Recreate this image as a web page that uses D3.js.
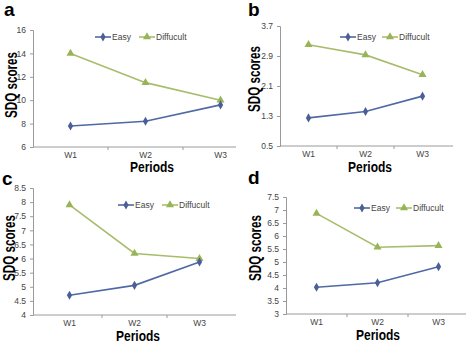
<!DOCTYPE html>
<html>
<head>
<meta charset="utf-8">
<script src="https://cdn.jsdelivr.net/npm/d3@7"></script>
<style>
  body { margin: 0; background: #fff; }
  svg { display: block; font-family: Arial, "Liberation Sans", sans-serif; }
</style>
</head>
<body>
<svg id="mainsvg" width="472" height="343"></svg>
<script>
const svg = d3.select('#mainsvg');

// data
const periods = ['W1', 'W2', 'W3'];
const seriesNames = ['Easy', 'Diffucult'];
const easyA = [7.8, 8.2, 9.6];
const diffA = [14.0, 11.5, 10.0];
const easyB = [1.25, 1.42, 1.83];
const diffB = [3.2, 2.93, 2.4];
const easyC = [4.7, 5.05, 5.88];
const diffC = [7.9, 6.18, 6.0];
const easyD = [4.03, 4.2, 4.82];
const diffD = [6.87, 5.57, 5.63];
const ticksA = [6, 8, 10, 12, 14, 16];
const ticksB = [0.5, 1.3, 2.1, 2.9, 3.7];
const ticksC = [4, 4.5, 5, 5.5, 6, 6.5, 7, 7.5, 8, 8.5];
const ticksD = [3, 3.5, 4, 4.5, 5, 5.5, 6, 6.5, 7, 7.5];

const easyColor = '#5068a4';
const diffColor = '#a8bd6c';

// panel layout
const panels = [
  { tag: 'a', easy: easyA, diff: diffA, ticks: ticksA, ax: 33, bx: 33, step: 75, xEnd: 236, yTop: 30, yBot: 147,
    tagX: 4, tagY: 16, titleX: 12, titleY: 85, perX: 152, perY: 172, lx: 95, ly: 37, lgap: 44 },
  { tag: 'b', easy: easyB, diff: diffB, ticks: ticksB, ax: 280, bx: 280, step: 57, xEnd: 453, yTop: 26, yBot: 146,
    tagX: 248, tagY: 16, titleX: 255, titleY: 79, perX: 370, perY: 172, lx: 340, ly: 37, lgap: 42 },
  { tag: 'c', easy: easyC, diff: diffC, ticks: ticksC, ax: 33, bx: 37, step: 65, xEnd: 236, yTop: 188, yBot: 315,
    tagX: 2, tagY: 185, titleX: 10, titleY: 248, perX: 138, perY: 341, lx: 118, ly: 205, lgap: 44 },
  { tag: 'd', easy: easyD, diff: diffD, ticks: ticksD, ax: 286, bx: 286, step: 61, xEnd: 466, yTop: 197, yBot: 314,
    tagX: 248, tagY: 184, titleX: 256, titleY: 248, perX: 378, perY: 340, lx: 354, ly: 208, lgap: 42 }
];

const diamond = d3.symbol().type(d3.symbolDiamond).size(24);
const triangle = d3.symbol().type(d3.symbolTriangle).size(28);

panels.forEach(p => {
  const g = svg.append('g').attr('class', 'panel');

  const xScale = d3.scaleBand()
    .domain(periods)
    .range([p.bx, p.bx + periods.length * p.step]);

  const yScale = d3.scaleLinear()
    .domain(d3.extent(p.ticks))
    .range([p.yBot, p.yTop]);

  // y axis
  const yAxis = d3.axisLeft(yScale).tickValues(p.ticks).tickSize(3).tickPadding(4)
    .tickFormat(d3.format(''));
  const yg = g.append('g').attr('transform', `translate(${p.ax},0)`).call(yAxis);
  yg.select('.domain').attr('stroke', '#9a9a9a');
  yg.selectAll('.tick line').attr('stroke', '#9a9a9a');
  yg.selectAll('.tick text').attr('fill', '#444').attr('font-size', 8.5);

  // x axis (clipped at the panel edge)
  g.append('line')
    .attr('x1', p.ax).attr('x2', p.xEnd)
    .attr('y1', p.yBot).attr('y2', p.yBot)
    .attr('stroke', '#9a9a9a');
  const edges = d3.range(1, periods.length).map(i => p.bx + i * p.step)
    .filter(x => x < p.xEnd);
  g.selectAll('.xtick').data(edges).join('line').attr('class', 'xtick')
    .attr('x1', d => d).attr('x2', d => d)
    .attr('y1', p.yBot).attr('y2', p.yBot + 3)
    .attr('stroke', '#9a9a9a');
  g.selectAll('.xlabel').data(periods).join('text').attr('class', 'xlabel')
    .attr('x', d => xScale(d) + xScale.bandwidth() / 2)
    .attr('y', p.yBot + 10.5)
    .attr('text-anchor', 'middle')
    .attr('font-size', 8.5)
    .attr('fill', '#444')
    .text(d => d);

  // lines
  const cx = (d, i) => xScale(periods[i]) + xScale.bandwidth() / 2;
  const line = d3.line().x(cx).y(d => yScale(d));

  g.append('path').datum(p.diff).attr('d', line)
    .attr('fill', 'none').attr('stroke', diffColor).attr('stroke-width', 1.6);
  g.append('path').datum(p.easy).attr('d', line)
    .attr('fill', 'none').attr('stroke', easyColor).attr('stroke-width', 1.6);

  g.selectAll('.dmark').data(p.diff).join('path').attr('class', 'dmark')
    .attr('d', triangle)
    .attr('transform', (d, i) => `translate(${cx(d, i)},${yScale(d)})`)
    .attr('fill', '#98b457');
  g.selectAll('.emark').data(p.easy).join('path').attr('class', 'emark')
    .attr('d', diamond)
    .attr('transform', (d, i) => `translate(${cx(d, i)},${yScale(d)})`)
    .attr('fill', '#4a5e98');

  // legend
  const legend = [
    { name: seriesNames[0], x: p.lx, color: easyColor, mark: diamond, mfill: '#4a5e98' },
    { name: seriesNames[1], x: p.lx + p.lgap, color: diffColor, mark: triangle, mfill: '#98b457' }
  ];
  legend.forEach(l => {
    g.append('line').attr('x1', l.x).attr('x2', l.x + 16)
      .attr('y1', p.ly).attr('y2', p.ly)
      .attr('stroke', l.color).attr('stroke-width', 1.6);
    g.append('path').attr('d', l.mark)
      .attr('transform', `translate(${l.x + 8},${p.ly})`)
      .attr('fill', l.mfill);
    g.append('text').attr('x', l.x + 17).attr('y', p.ly + 3)
      .attr('font-size', 8.5).attr('fill', '#444')
      .text(l.name);
  });

  // titles
  g.append('text')
    .attr('transform', `translate(${p.titleX + 5},${p.titleY}) rotate(-90)`)
    .attr('text-anchor', 'middle')
    .attr('font-size', 16).attr('font-weight', 'bold')
    .attr('textLength', 66).attr('lengthAdjust', 'spacingAndGlyphs')
    .text('SDQ scores');
  g.append('text')
    .attr('x', p.perX).attr('y', p.perY)
    .attr('text-anchor', 'middle')
    .attr('font-size', 14).attr('font-weight', 'bold')
    .attr('textLength', 44).attr('lengthAdjust', 'spacingAndGlyphs')
    .text('Periods');
  g.append('text')
    .attr('x', p.tagX).attr('y', p.tagY)
    .attr('font-size', 19).attr('font-weight', 'bold')
    .text(p.tag);
});
</script>
</body>
</html>
